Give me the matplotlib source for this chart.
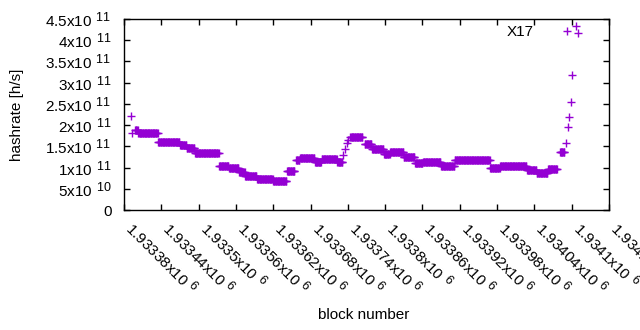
import numpy as np
import matplotlib
matplotlib.use("Agg")
import matplotlib.pyplot as plt
import matplotlib._mathtext as mathtext
from matplotlib.ticker import FixedLocator, FuncFormatter
from matplotlib.lines import Line2D

plt.rcParams['font.family'] = ['Liberation Sans', 'DejaVu Sans']
plt.rcParams['mathtext.fontset'] = 'custom'
plt.rcParams['mathtext.rm'] = 'Liberation Sans'
plt.rcParams['font.size'] = 11
# gnuplot draws the exponents only a little smaller than the mantissa
mathtext.SHRINK_FACTOR = 0.82

# hashrate plateaus: first block, last block, value
seg_first = [1933398, 1933403, 1933435, 1933470, 1933481, 1933494, 1933533, 1933549,
             1933565, 1933575, 1933594, 1933620, 1933642, 1933657, 1933663, 1933687,
             1933698, 1933723, 1933744, 1933767, 1933779, 1933798, 1933808, 1933830,
             1933848, 1933861, 1933890, 1933912, 1933969, 1933985, 1934028, 1934044,
             1934062, 1934081]
seg_last = [1933402, 1933434, 1933469, 1933480, 1933493, 1933532, 1933548, 1933564,
            1933574, 1933593, 1933619, 1933641, 1933654, 1933662, 1933686, 1933697,
            1933722, 1933731, 1933763, 1933778, 1933797, 1933807, 1933829, 1933847,
            1933860, 1933889, 1933911, 1933968, 1933984, 1934027, 1934043, 1934061,
            1934076, 1934088]
seg_rate = [1.88e11, 1.81e11, 1.60e11, 1.53e11, 1.45e11, 1.34e11, 1.04e11, 0.98e11,
            0.89e11, 0.81e11, 0.73e11, 0.69e11, 0.91e11, 1.18e11, 1.22e11, 1.12e11,
            1.19e11, 1.12e11, 1.73e11, 1.55e11, 1.43e11, 1.31e11, 1.37e11, 1.24e11,
            1.11e11, 1.12e11, 1.04e11, 1.18e11, 0.98e11, 1.03e11, 0.94e11, 0.86e11,
            0.96e11, 1.37e11]

# single blocks outside the plateaus
pt_block = [1933391, 1933393, 1933733, 1933736, 1933739, 1933741,
            1934091, 1934094, 1934096, 1934099, 1934101, 1934107, 1934110]
pt_rate = [2.22e11, 1.81e11, 1.30e11, 1.44e11, 1.58e11, 1.65e11,
           1.59e11, 1.95e11, 2.20e11, 2.54e11, 3.17e11, 4.33e11, 4.16e11]

x_ticks = [1933380 + 60 * i for i in range(14)]
y_ticks = [0, 0.5e11, 1e11, 1.5e11, 2e11, 2.5e11, 3e11, 3.5e11, 4e11, 4.5e11]

color = '#9400D3'

blocks = []
rates = []
for a, b, r in zip(seg_first, seg_last, seg_rate):
    n = np.arange(a, b + 1)
    blocks.append(n)
    rates.append(np.full(len(n), r))
blocks.append(np.array(pt_block))
rates.append(np.array(pt_rate))
blocks = np.concatenate(blocks)
rates = np.concatenate(rates)

fig = plt.figure(figsize=(6.4, 3.3), dpi=100)
ax = fig.add_axes([124/640, 1 - 210/330, 485/640, 191/330])

ax.plot(blocks, rates, '+', color=color, markersize=5.5, markeredgewidth=1.0)

ax.set_xlim(1933380, 1934160)
ax.set_ylim(0, 4.5e11)


def yfmt(v, pos):
    if v == 0:
        return '0'
    e = int(np.floor(np.log10(v)))
    m = v / 10**e
    return r'$\mathregular{%gx10\ ^{%d}}$' % (m, e)


def xfmt(v, pos):
    return r'$\mathregular{%gx10\ ^{6}}$' % (v / 1e6)


ax.xaxis.set_major_locator(FixedLocator(x_ticks))
ax.yaxis.set_major_locator(FixedLocator(y_ticks))
ax.xaxis.set_major_formatter(FuncFormatter(xfmt))
ax.yaxis.set_major_formatter(FuncFormatter(yfmt))
ax.tick_params(direction='in', length=4, width=1, top=True, right=True, labelsize=11)
ax.tick_params(axis='y', pad=9)
ax.tick_params(axis='x', pad=14.4)
for lab in ax.get_xticklabels():
    lab.set_rotation(-45)
    lab.set_ha('left')
    lab.set_va('baseline')
    lab.set_rotation_mode('anchor')
for s in ax.spines.values():
    s.set_linewidth(1)

handle = Line2D([], [], linestyle='none', marker='+', color=color,
                markersize=5.5, markeredgewidth=1.0)
ax.legend([handle], ['X17'], loc='center right', bbox_to_anchor=(0.945, 0.932),
          frameon=False, markerfirst=False, handlelength=2, handletextpad=1.2,
          borderaxespad=0, borderpad=0, fontsize=11)

fig.text(17/640, 1 - 115/330, 'hashrate [h/s]', rotation=90, ha='center', va='center', fontsize=11)
fig.text(364/640, 1 - 315/330, 'block number', ha='center', va='center', fontsize=11)

fig.savefig('out.png', dpi=100)
